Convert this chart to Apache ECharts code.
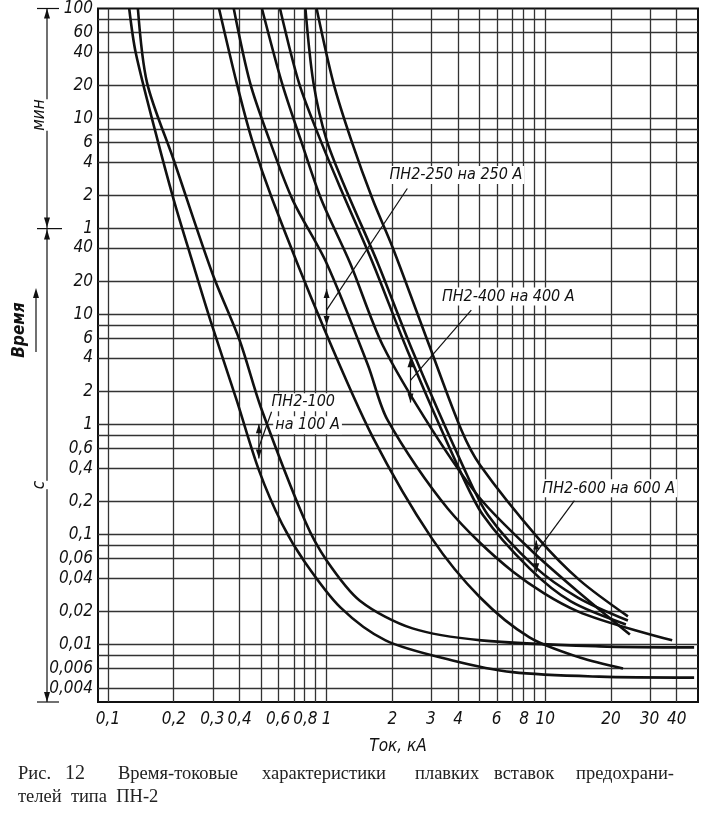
<!DOCTYPE html>
<html><head><meta charset="utf-8">
<script src="https://cdn.jsdelivr.net/npm/echarts@6/dist/echarts.min.js"></script>
<style>html,body{margin:0;padding:0;background:#fff}#c{width:710px;height:814px}</style>
</head><body><div id="c"></div>
<script>
// Current, kA ; time, s
const curveA = [[0.125,6000],[0.134,2360],[0.164,471],[0.2,109],[0.242,31],[0.294,8.8],[0.388,1.65],[0.491,0.38],[0.625,0.125],[0.8,0.055],[1.156,0.0217],[1.86,0.0109],[3.73,0.0072],[7.1,0.0056],[17.7,0.0051],[48,0.005]];
const curveB = [[0.137,6000],[0.151,1259],[0.2,251],[0.3,23.6],[0.4,5.8],[0.5,1.43],[0.8,0.13],[1,0.058],[1.42,0.025],[2.47,0.014],[5.1,0.0109],[17.7,0.0096],[48,0.0094]];
const curveC = [[0.322,6000],[0.388,1259],[0.456,382],[0.566,109],[0.968,7.62],[1.628,0.762],[3.03,0.092],[5.04,0.0267],[8.47,0.0116],[14.4,0.0076],[22.7,0.00605]];
const curveD = [[0.376,6000],[0.447,1259],[0.548,382],[0.7,109],[1,29.1],[1.546,3.44],[1.902,1.09],[3.58,0.172],[7.1,0.0461],[14.1,0.02],[38.1,0.0109]];
const curveE = [[0.506,6000],[0.625,1259],[0.762,382],[0.948,109],[1.282,29.1],[1.806,5.23],[3.03,0.9],[5.04,0.212],[8.74,0.07],[14.1,0.0303],[24.4,0.0123]];
const curveF = [[0.612,6000],[0.748,1259],[0.937,382],[1.168,134],[1.628,29.1],[2.34,4.71],[3.97,0.424],[5.2,0.149],[8.47,0.0491],[13.1,0.0246],[23.4,0.0152]];
const curveG = [[0.8,6000],[0.871,1259],[1,382],[1.23,134],[1.715,29.1],[2.466,4.71],[4.19,0.424],[5.48,0.149],[8.92,0.0512],[14.1,0.0267],[23.9,0.0165]];
const curveH = [[0.9,6000],[1.075,1259],[1.296,382],[1.628,109],[2.003,40.6],[2.97,5.01],[4.14,0.882],[5.04,0.424],[9.3,0.092],[14.4,0.0382],[23.9,0.018]];

const xGrid = [0.1,0.2,0.3,0.4,0.5,0.6,0.7,0.8,0.9,1,2,3,4,5,6,7,8,9,10,20,30,40];
const xTickValues = [0.1,0.2,0.3,0.4,0.6,0.8,1,2,3,4,6,8,10,20,30,40];
const xTickLabels = ['0,1','0,2','0,3','0,4','0,6','0,8','1','2','3','4','6','8','10','20','30','40'];
const yGrid = [4800,3600,2400,1200,600,480,360,240,120,60,40,20,10,8,6,4,2,1,0.8,0.6,0.4,0.2,0.1,0.08,0.06,0.04,0.02,0.01,0.008,0.006,0.004];
const yTickValues = [6000,3600,2400,1200,600,360,240,120,60,40,20,10,6,4,2,1,0.6,0.4,0.2,0.1,0.06,0.04,0.02,0.01,0.006,0.004];
const yTickLabels = ['100','60','40','20','10','6','4','2','1','40','20','10','6','4','2','1','0,6','0,4','0,2','0,1','0,06','0,04','0,02','0,01','0,006','0,004'];

const L = Math.log10;
const FONT = "'Liberation Sans Narrow','DejaVu Sans Condensed','Liberation Sans',sans-serif";
const chart = echarts.init(document.getElementById('c'));
const curves = [curveA,curveB,curveC,curveD,curveE,curveF,curveG,curveH];
const lbl = (vals, labs) => v => { for (let i=0;i<vals.length;i++) if (Math.abs(L(vals[i])-v)<1e-6) return labs[i]; return ''; };

const series = curves.map(c => ({
  type:'line', smooth:0.3, symbol:'none', silent:true,
  data:c.map(p=>[L(p[0]),L(p[1])]),
  lineStyle:{color:'#111',width:2.6}, z:5
}));
series.push({
  type:'line', data:[], silent:true, z:2,
  markLine:{silent:true, symbol:'none', animation:false, label:{show:false},
    lineStyle:{color:'#333',width:1.3,type:'solid'},
    data:[...xGrid.map(v=>({xAxis:L(v)})), ...yGrid.map(v=>({yAxis:L(v)}))]}
});

chart.setOption({
  animation:false,
  grid:{left:98,right:12,top:7,bottom:112,show:true,borderColor:'#111',borderWidth:2},
  xAxis:{type:'value',min:L(0.09),max:L(50),splitLine:{show:false},axisTick:{show:false},
    axisLine:{show:false},
    axisLabel:{customValues:xTickValues.map(L),formatter:lbl(xTickValues,xTickLabels),
      fontFamily:FONT,fontStyle:'italic',fontSize:17,color:'#111',margin:9},
    name:'Ток, кА',nameLocation:'middle',nameGap:36,
    nameTextStyle:{fontFamily:FONT,fontStyle:'italic',fontSize:17,color:'#111'}},
  yAxis:{type:'value',min:L(0.003),max:L(6000),splitLine:{show:false},axisTick:{show:false},
    axisLine:{show:false},
    axisLabel:{customValues:yTickValues.map(L),formatter:lbl(yTickValues,yTickLabels),
      fontFamily:FONT,fontStyle:'italic',fontSize:17,color:'#111',margin:5}},
  series:series
});

function P(i,t){return chart.convertToPixel({gridIndex:0},[L(i),L(t)]);}
const g = [];
function text(str,i,t,extra){const p=P(i,t);g.push({type:'text',x:p[0],y:p[1],z:20,
  style:Object.assign({text:str,font:"italic 16px "+FONT,fill:'#111',backgroundColor:'#fff',verticalAlign:'middle',padding:[1,2]},extra||{})});}
function line(i1,t1,i2,t2){const a=P(i1,t1),b=P(i2,t2);g.push({type:'line',z:21,shape:{x1:a[0],y1:a[1],x2:b[0],y2:b[1]},style:{stroke:'#111',lineWidth:1.2}});}
function darrow(i,t1,t2){const a=P(i,t1),b=P(i,t2);
  g.push({type:'line',z:21,shape:{x1:a[0],y1:a[1],x2:b[0],y2:b[1]},style:{stroke:'#111',lineWidth:1.2}});
  g.push({type:'polygon',z:21,shape:{points:[[a[0],a[1]],[a[0]-3,a[1]+9],[a[0]+3,a[1]+9]]},style:{fill:'#111'}});
  g.push({type:'polygon',z:21,shape:{points:[[b[0],b[1]],[b[0]-3,b[1]-9],[b[0]+3,b[1]-9]]},style:{fill:'#111'}});}

text('ПН2-250 на 250 А',1.9,184);
line(2.34,139,1.0,10.9); darrow(1.0,17,8);
text('ПН2-400 на 400 А',3.3,14.5);
line(4.59,10.9,2.42,2.51); darrow(2.42,3.98,1.58);
text('ПН2-100',0.548,1.585);
text('на 100 А',0.57,0.98);
line(0.56,1.3,0.49,0.62); darrow(0.49,1.0,0.49);
text('ПН2-600 на 600 А',9.5,0.262);
line(13.6,0.203,9.1,0.0685); darrow(9.1,0.088,0.0452);

const dl = (x1,y1,x2,y2)=>g.push({type:'line',shape:{x1,y1,x2,y2},style:{stroke:'#111',lineWidth:1.2}});
const yTop=P(1,6000)[1], yMid=P(1,60)[1], yBot=P(1,0.003)[1];
dl(47,yTop,47,yBot); dl(37,yTop,59,yTop); dl(37,yMid,62,yMid); dl(37,yBot,59,yBot);
const tri=(x,y,d)=>g.push({type:'polygon',shape:{points:[[x,y],[x-3,y+10*d],[x+3,y+10*d]]},style:{fill:'#111'}});
tri(47,yTop,1); tri(47,yMid-1,-1); tri(47,yMid+1,1); tri(47,yBot,-1);
g.push({type:'text',x:40,y:115,rotation:Math.PI/2,style:{text:'мин',font:"italic 17px "+FONT,fill:'#111',align:'center',verticalAlign:'middle',backgroundColor:'#fff'}});
g.push({type:'text',x:40,y:485,rotation:Math.PI/2,style:{text:'с',font:"italic 17px "+FONT,fill:'#111',align:'center',verticalAlign:'middle',backgroundColor:'#fff'}});
g.push({type:'text',x:20,y:330,rotation:Math.PI/2,style:{text:'Время',font:"italic bold 17px "+FONT,fill:'#111',align:'center',verticalAlign:'middle'}});
dl(36,352,36,292); tri(36,288,1);
const capWords = [['Рис.',18],['12',65],['Время-токовые',118],['характеристики',262],['плавких',415],['вставок',494],['предохрани-',576]];
capWords.forEach(w=>g.push({type:'text',x:w[1],y:774,style:{text:w[0],font:(w[0]==='12'?"20px":"18.5px")+" 'Liberation Serif',serif",fill:'#222',verticalAlign:'middle'}}));
g.push({type:'text',x:18,y:797,style:{text:'телей  типа  ПН-2',font:"18.5px 'Liberation Serif',serif",fill:'#222',verticalAlign:'middle'}});
chart.setOption({graphic:g});
</script></body></html>
